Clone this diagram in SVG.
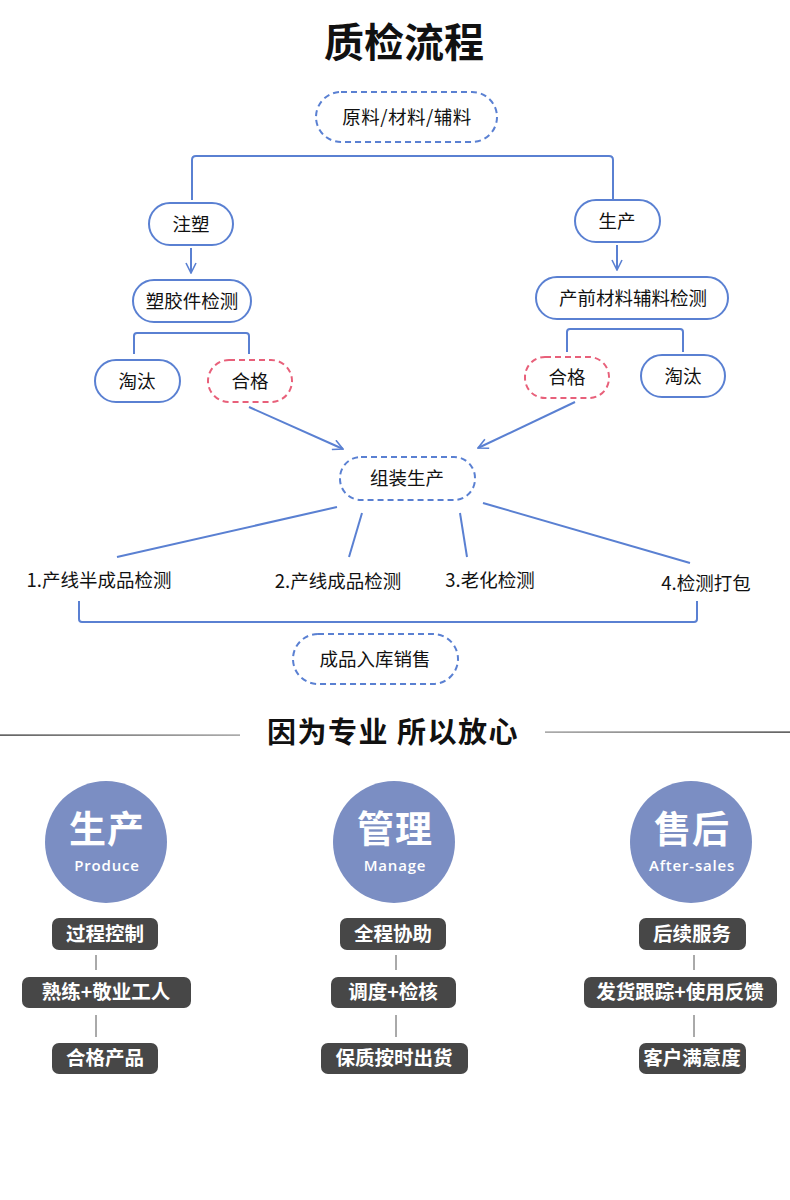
<svg xmlns="http://www.w3.org/2000/svg" width="790" height="1200" viewBox="0 0 790 1200">
<defs>
<style>
.t{font-family:"Noto Sans CJK SC","Liberation Sans",sans-serif;}
.n{fill:#fff;stroke:#5a80d2;stroke-width:2;}
.d{fill:#fff;stroke:#5a80d2;stroke-width:2;stroke-dasharray:6 4;}
.r{fill:#fff;stroke:#e8607a;stroke-width:2;stroke-dasharray:6 4;}
.lbl{font-size:18.5px;fill:#111;text-anchor:middle;}
.c{fill:none;stroke:#5a80d2;stroke-width:2;}
.circ{fill:#7b8ec3;}
.big{font-size:37px;font-weight:bold;fill:#fff;text-anchor:middle;letter-spacing:1px;}
.en{font-size:15px;fill:#fff;text-anchor:middle;font-family:"Open Sans","Liberation Sans",sans-serif;font-weight:600;letter-spacing:0.8px;}
.box{fill:#474747;}
.bt{font-size:19.5px;font-weight:bold;fill:#fff;text-anchor:middle;}
.gl{stroke:#555;stroke-width:1;}
</style>
<marker id="ah" viewBox="0 0 12 12" refX="11" refY="6" markerWidth="12" markerHeight="12" markerUnits="userSpaceOnUse" orient="auto">
<path d="M1,1 L11,6 L1,11" fill="none" stroke="#5a80d2" stroke-width="1.6"/>
</marker>
<linearGradient id="lg" x1="0" x2="1"><stop offset="0" stop-color="#222"/><stop offset="1" stop-color="#888"/></linearGradient>
<linearGradient id="rg" x1="0" x2="1"><stop offset="0" stop-color="#888"/><stop offset="1" stop-color="#222"/></linearGradient>
</defs>
<rect width="790" height="1200" fill="#fff"/>
<text class="t" x="404" y="57" font-size="40" font-weight="bold" text-anchor="middle" fill="#111">质检流程</text>

<g id="connectors">
<path class="c" d="M192,200 V160 Q192,156 196,156 H609 Q613,156 613,160 V200"/>
<path class="c" d="M191,248 V273" marker-end="url(#ah)"/>
<path class="c" d="M617,245 V270" marker-end="url(#ah)"/>
<path class="c" d="M134,354 V336 Q134,333 137,333 H246 Q249,333 249,336 V354"/>
<path class="c" d="M567,352 V332 Q567,329 570,329 H680 Q683,329 683,332 V352"/>
<path class="c" d="M249,407 L343,449" marker-end="url(#ah)"/>
<path class="c" d="M575,402 L478,448" marker-end="url(#ah)"/>
<path class="c" d="M337,507 L117,557"/>
<path class="c" d="M362,513 L349,557"/>
<path class="c" d="M460,513 L467,557"/>
<path class="c" d="M483,503 L690,563"/>
<path class="c" d="M79,601 V619 Q79,622 82,622 H694 Q697,622 697,619 V601"/>
<line class="gl" x1="96" y1="955" x2="96" y2="970"/>
<line class="gl" x1="96" y1="1015" x2="96" y2="1037"/>
<line class="gl" x1="396" y1="955" x2="396" y2="970"/>
<line class="gl" x1="396" y1="1015" x2="396" y2="1037"/>
<line class="gl" x1="694" y1="955" x2="694" y2="970"/>
<line class="gl" x1="694" y1="1015" x2="694" y2="1037"/>
</g>

<g id="n_raw"><rect class="d" x="316" y="92" width="181" height="50" rx="25"/><text class="t lbl" x="407" y="124" font-size="20" letter-spacing="0.5">原料/材料/辅料</text></g>
<g id="n_zhusu"><rect class="n" x="149" y="203" width="84" height="42" rx="21"/><text class="t lbl" x="191" y="231">注塑</text></g>
<g id="n_shengchan"><rect class="n" x="575" y="200" width="85" height="42" rx="21"/><text class="t lbl" x="617" y="228">生产</text></g>
<g id="n_sujiao"><rect class="n" x="133" y="280" width="118" height="42" rx="21"/><text class="t lbl" x="192" y="308">塑胶件检测</text></g>
<g id="n_chanqian"><rect class="n" x="536" y="277" width="192" height="42" rx="21"/><text class="t lbl" x="633" y="305">产前材料辅料检测</text></g>
<g id="n_taotai1"><rect class="n" x="95" y="360" width="85" height="42" rx="21"/><text class="t lbl" x="137" y="388">淘汰</text></g>
<g id="n_hege1"><rect class="r" x="208" y="360" width="84" height="42" rx="21"/><text class="t lbl" x="250" y="388">合格</text></g>
<g id="n_hege2"><rect class="r" x="525" y="357" width="84" height="41" rx="20"/><text class="t lbl" x="567" y="384">合格</text></g>
<g id="n_taotai2"><rect class="n" x="641" y="355" width="84" height="42" rx="21"/><text class="t lbl" x="683" y="383">淘汰</text></g>
<g id="n_zuzhuang"><rect class="d" x="340" y="457" width="135" height="43" rx="21"/><text class="t lbl" x="407" y="485">组装生产</text></g>
<g id="n_s1"><text class="t lbl" x="99" y="587">1.产线半成品检测</text></g>
<g id="n_s2"><text class="t lbl" x="338" y="588">2.产线成品检测</text></g>
<g id="n_s3"><text class="t lbl" x="490" y="587">3.老化检测</text></g>
<g id="n_s4"><text class="t lbl" x="706" y="590">4.检测打包</text></g>
<g id="n_ruku"><rect class="d" x="293" y="634" width="165" height="50" rx="25"/><text class="t lbl" x="375" y="666" font-size="19.5">成品入库销售</text></g>

<g id="divider">
<rect x="0" y="734.5" width="240" height="1.2" fill="url(#lg)"/>
<rect x="545" y="731.5" width="245" height="1.2" fill="url(#rg)"/>
<text class="t" x="393" y="743" font-size="29" font-weight="bold" text-anchor="middle" fill="#111" letter-spacing="1.5">因为专业 所以放心</text>
</g>

<g id="c_produce"><circle class="circ" cx="106" cy="842" r="61"/><text class="t big" x="107" y="843">生产</text><text class="en" x="107" y="871">Produce</text></g>
<g id="c_manage"><circle class="circ" cx="394" cy="842" r="61"/><text class="t big" x="395" y="843">管理</text><text class="en" x="395" y="871">Manage</text></g>
<g id="c_after"><circle class="circ" cx="691" cy="842" r="61"/><text class="t big" x="692" y="843">售后</text><text class="en" x="692" y="871">After-sales</text></g>

<g id="b11"><rect class="box" x="52" y="918" width="106" height="32" rx="7"/><text class="t bt" x="105" y="941">过程控制</text></g>
<g id="b12"><rect class="box" x="22" y="977" width="169" height="31" rx="7"/><text class="t bt" x="106" y="999">熟练+敬业工人</text></g>
<g id="b13"><rect class="box" x="52" y="1043" width="106" height="31" rx="7"/><text class="t bt" x="105" y="1065">合格产品</text></g>
<g id="b21"><rect class="box" x="340" y="918" width="106" height="32" rx="7"/><text class="t bt" x="393" y="941">全程协助</text></g>
<g id="b22"><rect class="box" x="331" y="977" width="125" height="31" rx="7"/><text class="t bt" x="393" y="999">调度+检核</text></g>
<g id="b23"><rect class="box" x="321" y="1043" width="147" height="31" rx="7"/><text class="t bt" x="394" y="1065">保质按时出货</text></g>
<g id="b31"><rect class="box" x="639" y="918" width="107" height="32" rx="7"/><text class="t bt" x="692" y="941">后续服务</text></g>
<g id="b32"><rect class="box" x="584" y="977" width="193" height="31" rx="7"/><text class="t bt" x="680" y="999">发货跟踪+使用反馈</text></g>
<g id="b33"><rect class="box" x="639" y="1043" width="107" height="31" rx="7"/><text class="t bt" x="692" y="1065">客户满意度</text></g>
</svg>
